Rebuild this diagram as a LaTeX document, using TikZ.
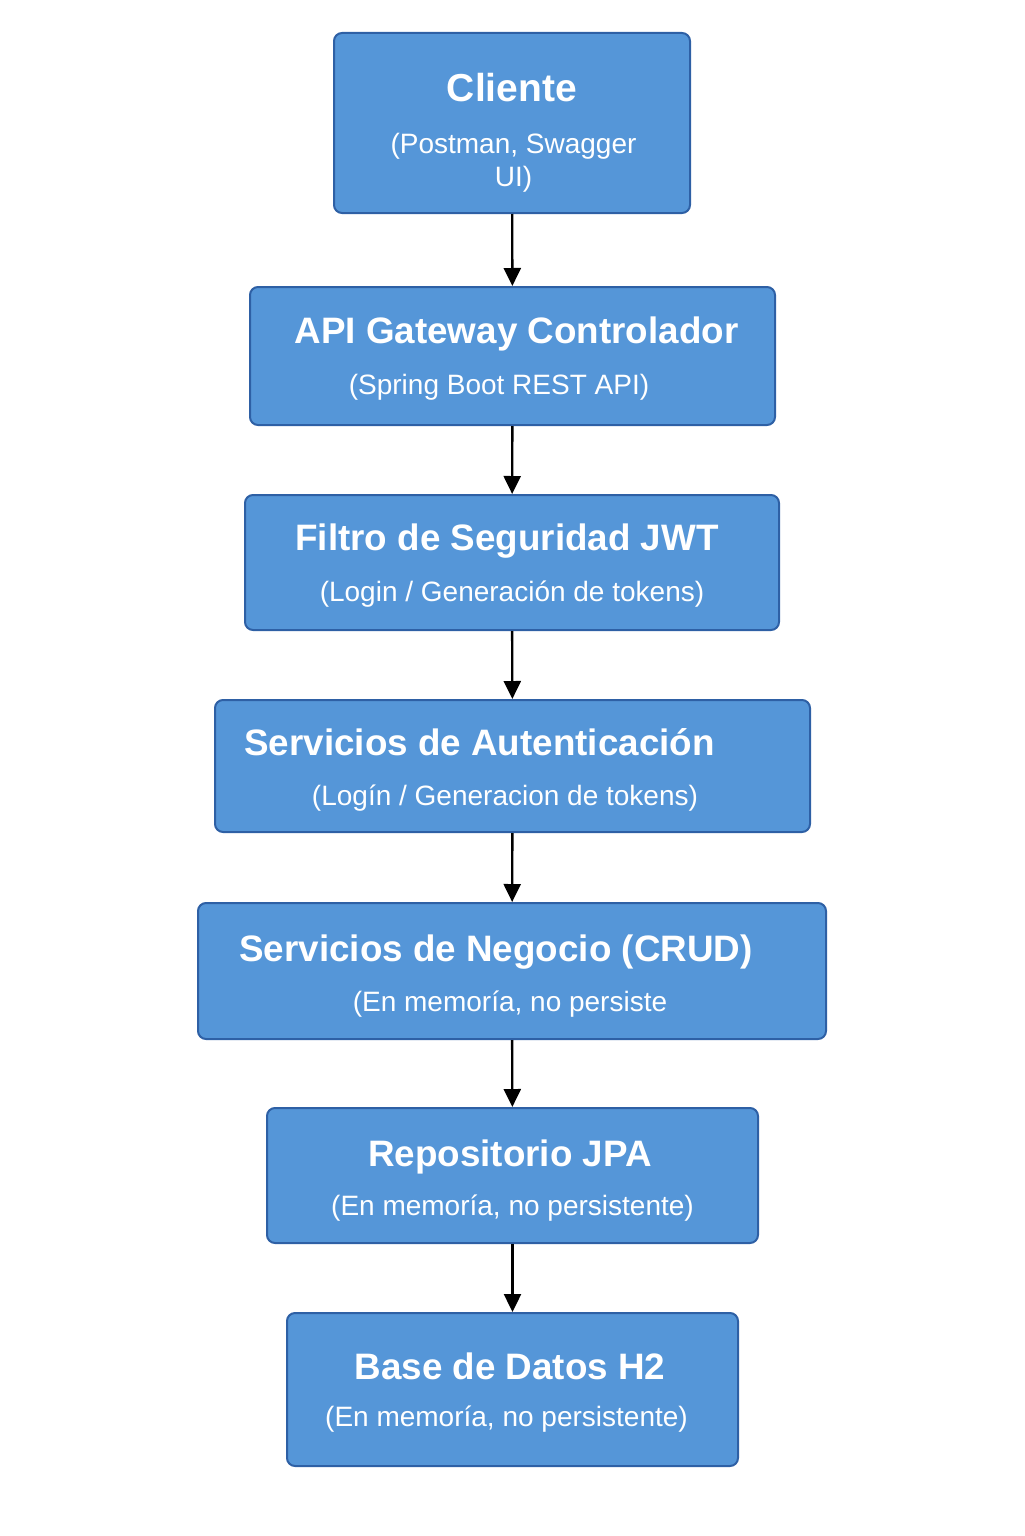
\documentclass[tikz,border=0pt]{standalone}
\usepackage{fontspec}
\setmainfont{Liberation Sans}
\usepackage{tikz}
\usetikzlibrary{arrows.meta, positioning}
\definecolor{boxblue}{RGB}{85,150,216}
\definecolor{boxline}{RGB}{46,96,165}

\begin{document}
\begin{tikzpicture}[x=0.5pt, y=-0.5pt,
	layer/.style={rectangle, draw=boxline, line width=1pt, rounded corners=4pt, fill=boxblue, inner sep=0pt},
	title/.style={text=white, font=\fontsize{18.4}{20}\selectfont\bfseries, anchor=base, inner sep=0pt},
	sub/.style={text=white, font=\fontsize{14}{16.5}\selectfont, anchor=base, inner sep=0pt, align=center},
	->, >={Triangle[width=8.5pt, length=9pt]}, line width=1.2pt]

\useasboundingbox (0,0) rectangle (1024,1536);

% Nodes
\node[layer, minimum width=178pt, minimum height=90pt] (cli) at (512,123) {};
\node[title, font=\fontsize{19.5}{22}\selectfont\bfseries] (cliT) at (512,102) {Cliente};
\node[sub] (cliS) at (513.5,186) {(Postman, Swagger\\UI)};

\node[layer, minimum width=262.5pt, minimum height=69pt] (api) at (512.5,356) {};
\node[title] (apiT) at (516.5,343) {API Gateway Controlador};
\node[sub] (apiS) at (499,394) {(Spring Boot REST API)};

\node[layer, minimum width=267pt, minimum height=67.5pt] (fil) at (512,562.5) {};
\node[title] (filT) at (507,550) {Filtro de Seguridad JWT};
\node[sub] (filS) at (512,601) {(Login / Generación de tokens)};

\node[layer, minimum width=297.5pt, minimum height=66pt] (aut) at (512.5,766) {};
\node[title] (autT) at (479.5,755) {Servicios de Autenticación};
\node[sub] (autS) at (505,805) {(Logín / Generacion de tokens)};

\node[layer, minimum width=314pt, minimum height=68pt] (neg) at (512,971) {};
\node[title] (negT) at (496,961) {Servicios de Negocio (CRUD)};
\node[sub] (negS) at (510,1011) {(En memoría, no persiste};

\node[layer, minimum width=245.5pt, minimum height=67.5pt] (rep) at (512.5,1175.5) {};
\node[title] (repT) at (510,1166) {Repositorio JPA};
\node[sub] (repS) at (512.5,1215) {(En memoría, no persistente)};

\node[layer, minimum width=225.5pt, minimum height=76.5pt] (bas) at (512.5,1389.5) {};
\node[title] (basT) at (510,1379) {Base de Datos H2};
\node[sub] (basS) at (506.5,1426) {(En memoría, no persistente)};

% Transitions
\draw (cli) -- (api);
\draw (api) -- (fil);
\draw (fil) -- (aut);
\draw (aut) -- (neg);
\draw (neg) -- (rep);
\draw (rep) -- (bas);
\end{tikzpicture}
\end{document}
